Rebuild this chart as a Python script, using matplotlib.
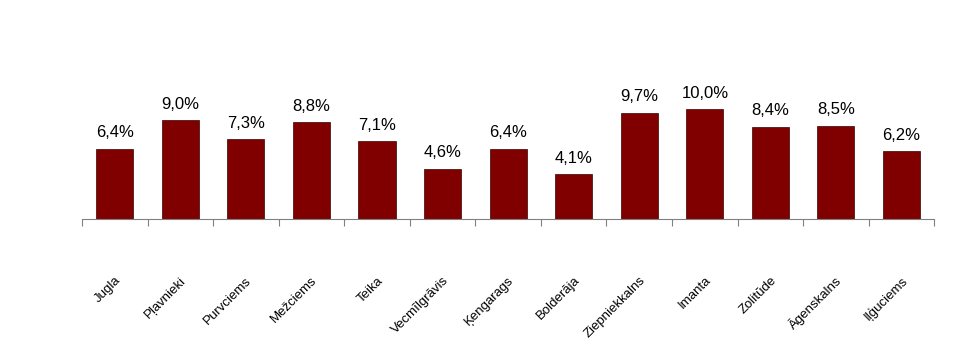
import matplotlib.pyplot as plt
import matplotlib.transforms as mtransforms
import numpy as np

districts = ["Jugla", "Pļavnieki", "Purvciems", "Mežciems", "Teika", "Vecmīlgrāvis",
             "Ķengarags", "Bolderāja", "Ziepniekkalns", "Imanta", "Zolitūde",
             "Āgenskalns", "Iļģuciems"]
shares = [6.4, 9.0, 7.3, 8.8, 7.1, 4.6, 6.4, 4.1, 9.7, 10.0, 8.4, 8.5, 6.2]

plt.rcParams['font.family'] = ['Liberation Sans', 'DejaVu Sans']

fig = plt.figure(figsize=(9.62, 3.62), dpi=100)
ax = fig.add_axes([0.0852, 0.395, 0.886, 0.555])

x = np.arange(len(districts))
bars = ax.bar(x, shares, width=0.565, color='#800000', edgecolor='#3a0000', linewidth=0.5)

for xi, v in zip(x, shares):
    ax.annotate(f"{v:.1f}%".replace('.', ','), (xi, v), xytext=(0, 6),
                textcoords='offset points', ha='center', va='bottom', fontsize=12)

ax.set_xlim(-0.5, len(districts) - 0.5)
ax.set_ylim(0, 18.3)

# tick marks at category boundaries, labels at centres
ax.set_xticks(np.arange(-0.5, len(districts)), minor=True)
ax.tick_params(axis='x', which='minor', length=5, color='#808080', width=0.8)
ax.set_xticks(x)
ax.set_xticklabels(districts, rotation=45, ha='right', va='center',
                   rotation_mode='anchor', fontsize=9.5)
ax.tick_params(axis='x', which='major', length=0, pad=43)
shift = mtransforms.ScaledTranslation(4 / 100, 0, fig.dpi_scale_trans)
for lbl in ax.get_xticklabels():
    lbl.set_transform(lbl.get_transform() + shift)

ax.set_yticks([])
for side in ['top', 'right', 'left']:
    ax.spines[side].set_visible(False)
ax.spines['bottom'].set_color('#808080')
ax.spines['bottom'].set_linewidth(0.8)

fig.savefig('out.png', dpi=100)
